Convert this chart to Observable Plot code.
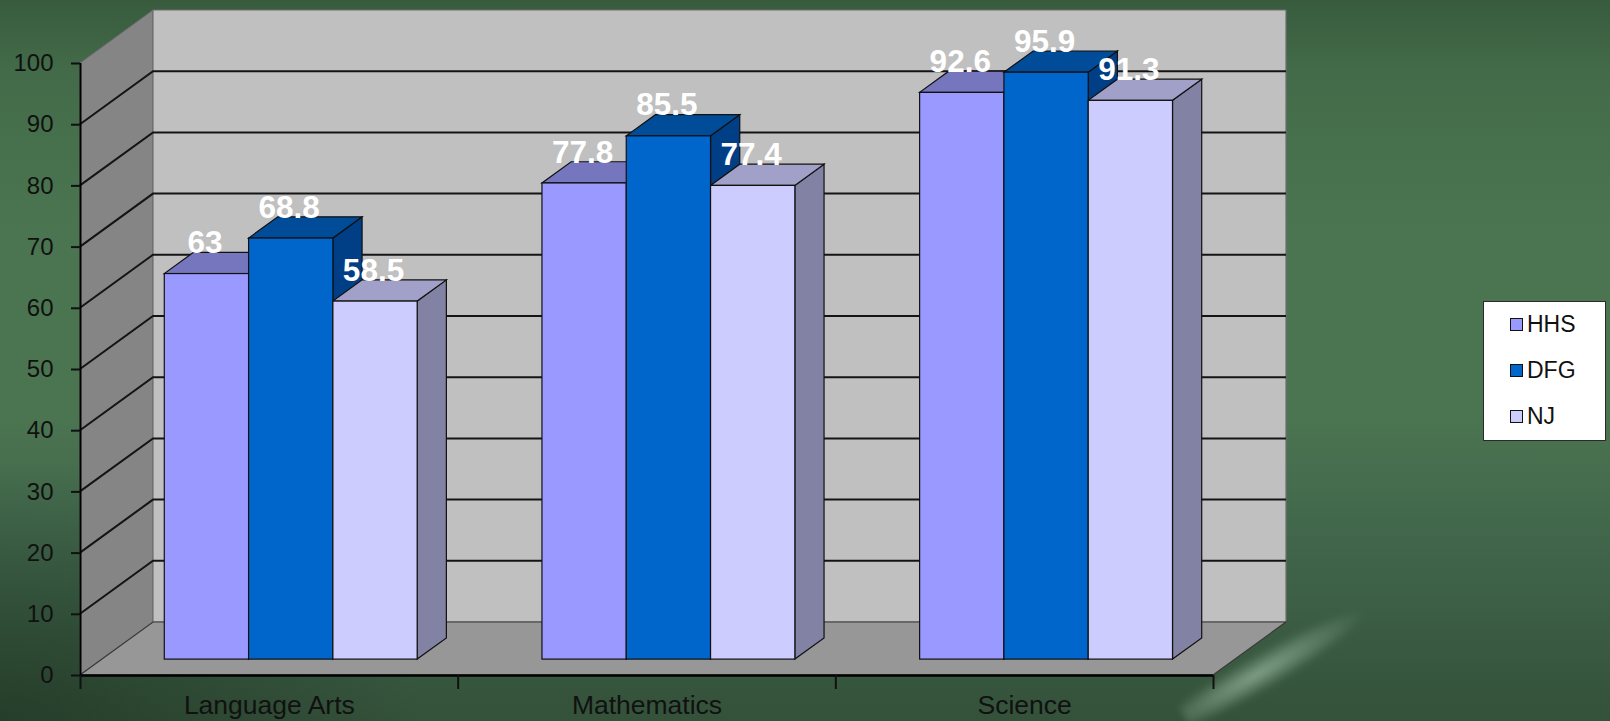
<!DOCTYPE html>
<html>
<head>
<meta charset="utf-8">
<script src="https://cdn.jsdelivr.net/npm/d3@7"></script>
<script src="https://cdn.jsdelivr.net/npm/@observablehq/plot@0.6"></script>
<style>
  html, body { margin: 0; padding: 0; width: 1610px; height: 721px; overflow: hidden; }
  body {
    font-family: "Liberation Sans", Arial, sans-serif;
    background:
      radial-gradient(ellipse 420px 260px at 0% 100%, rgba(25,45,30,0.55), rgba(25,45,30,0)),
      linear-gradient(180deg, #385b3e 0%, #436b49 10%, #4b7551 32%, #4b7451 58%, #40654a 76%, #34513a 100%);
  }
  #wrap { position: relative; width: 1610px; height: 721px; }
  #smudge {
    position: absolute; left: 1170px; top: 645px; width: 210px; height: 38px;
    background: radial-gradient(ellipse at 40% 50%, rgba(190,220,195,0.55), rgba(190,220,195,0) 70%);
    transform: rotate(-30deg); filter: blur(3px);
  }
  #chart { position: absolute; left: 0; top: 0; }
  #legend {
    position: absolute; left: 1483px; top: 301px; width: 123px; height: 140px;
    box-sizing: border-box; background: #fff; border: 1.5px solid #2a2a2a;
  }
  .item { position: absolute; left: 26px; height: 24px; display: flex; align-items: center; font-size: 23px; color: #111; }
  .sw { width: 11px; height: 11px; border: 1.5px solid #111; margin-right: 4px; }
</style>
</head>
<body>
<div id="wrap"><div id="smudge"></div><div id="chart"></div><div id="legend"></div></div>
<script>
// ---- data ----
const categories = ["Language Arts", "Mathematics", "Science"];
const series = ["HHS", "DFG", "NJ"];
const hhsValues = [63, 77.8, 92.6];
const dfgValues = [68.8, 85.5, 95.9];
const njValues = [58.5, 77.4, 91.3];
const yTicks = [0, 10, 20, 30, 40, 50, 60, 70, 80, 90, 100];

// ---- styles ----
const frontColors = ["#9999ff", "#0066cc", "#ccccff"];
const topColors = ["#7676bf", "#004c99", "#a0a0c8"];
const sideColors = ["#6a6aa8", "#003f86", "#8282a4"];
const DEPTH = [73, -53];          // full floor depth in px
const BAR_FRONT = 0.3, BAR_BACK = 0.7;
const BAR_W = 0.2232;             // in category units
const GROUP_PAD = (1 - 3 * BAR_W) / 2;
const FX = DEPTH[0] * BAR_FRONT, FY = DEPTH[1] * BAR_FRONT;
const BX = DEPTH[0] * (BAR_BACK - BAR_FRONT), BY = DEPTH[1] * (BAR_BACK - BAR_FRONT);

const valuesBySeries = [hhsValues, dfgValues, njValues];
const rows = categories.flatMap((c, ci) => series.map((s, si) => ({
  category: c, series: s, si,
  x1: ci + GROUP_PAD + si * BAR_W,
  x2: ci + GROUP_PAD + (si + 1) * BAR_W,
  value: valuesBySeries[si][ci]
})));

function walls(index, scales) {
  const x = scales.x, y = scales.y;
  const [DX, DY] = DEPTH;
  const g = d3.create("svg:g");
  const x0 = x(0), x3 = x(3), y0 = y(0), yT = y(100);
  g.append("path")
    .attr("d", `M${x0},${y0}L${x0},${yT}L${x0 + DX},${yT + DY}L${x0 + DX},${y0 + DY}Z`)
    .attr("fill", "#858585").attr("stroke", "#6a6a6a").attr("stroke-width", 1);
  g.append("path")
    .attr("d", `M${x0 + DX},${y0 + DY}L${x0 + DX},${yT + DY}L${x3 + DX},${yT + DY}L${x3 + DX},${y0 + DY}Z`)
    .attr("fill", "#c0c0c0").attr("stroke", "#6e6e6e").attr("stroke-width", 1.2);
  for (const t of yTicks) {
    if (t === 0 || t === 100) continue;
    g.append("path")
      .attr("d", `M${x0},${y(t)}L${x0 + DX},${y(t) + DY}L${x3 + DX},${y(t) + DY}`)
      .attr("fill", "none").attr("stroke", "#141414").attr("stroke-width", 2);
  }
  g.append("path")
    .attr("d", `M${x0},${y0}L${x3},${y0}L${x3 + DX},${y0 + DY}L${x0 + DX},${y0 + DY}Z`)
    .attr("fill", "#979797").attr("stroke", "#3a3a3a").attr("stroke-width", 1.2);
  return g.node();
}

function barFaces(index, scales) {
  const x = scales.x, y = scales.y;
  const g = d3.create("svg:g");
  for (const r of rows) {
    const xl = x(r.x1) + FX, xr = x(r.x2) + FX;
    const yt = y(r.value) + FY, yb = y(0) + FY;
    g.append("path")
      .attr("d", `M${xr},${yt}L${xr + BX},${yt + BY}L${xr + BX},${yb + BY}L${xr},${yb}Z`)
      .attr("fill", sideColors[r.si]).attr("stroke", "#111").attr("stroke-width", 1.2);
    g.append("path")
      .attr("d", `M${xl},${yt}L${xr},${yt}L${xr + BX},${yt + BY}L${xl + BX},${yt + BY}Z`)
      .attr("fill", topColors[r.si]).attr("stroke", "#111").attr("stroke-width", 1.2);
  }
  return g.node();
}

const chart = Plot.plot({
  width: 1610,
  height: 721,
  marginLeft: 80,
  marginRight: 397,
  marginTop: 63,
  marginBottom: 46,
  x: { domain: [0, 3] },
  y: { domain: [0, 100] },
  color: { domain: series, range: frontColors },
  style: { background: "transparent", overflow: "visible", fontFamily: "Liberation Sans, Arial, sans-serif" },
  marks: [
    walls,
    barFaces,
    Plot.rect(rows, {
      x1: "x1", x2: "x2", y1: 0, y2: "value", fill: "series",
      dx: FX, dy: FY, stroke: "#111", strokeWidth: 1.2
    }),
    Plot.text(rows, {
      x: d => (d.x1 + d.x2) / 2, y: "value", text: d => String(d.value),
      dx: FX - 2, dy: FY - 31, fill: "white", fontWeight: "bold", fontSize: 31.5,
      fontFamily: "Liberation Sans, Arial, sans-serif"
    }),
    Plot.ruleY([0], { x1: 0, x2: 3, stroke: "#000", strokeWidth: 2.5 }),
    Plot.ruleX([0], { y1: 0, y2: 100, stroke: "#000", strokeWidth: 2 }),
    Plot.axisY({ ticks: yTicks, tickSize: 9, tickPadding: 18, fontSize: 24, color: "#111", strokeWidth: 2, label: null }),
    Plot.axisX({ ticks: [0, 1, 2, 3], tickSize: 14, tickFormat: () => "", color: "#111", strokeWidth: 2, label: null }),
    Plot.axisX({ ticks: [0.5, 1.5, 2.5], tickSize: 0, tickPadding: 20, fontSize: 26.5, color: "#111", label: null,
      tickFormat: d => categories[Math.floor(d)] })
  ]
});
document.getElementById("chart").appendChild(chart);

const legend = document.getElementById("legend");
series.forEach((s, i) => {
  const item = document.createElement("div");
  item.className = "item";
  item.style.top = (10 + i * 46) + "px";
  const sw = document.createElement("div");
  sw.className = "sw";
  sw.style.background = frontColors[i];
  item.appendChild(sw);
  item.appendChild(document.createTextNode(s));
  legend.appendChild(item);
});
</script>
</body>
</html>
